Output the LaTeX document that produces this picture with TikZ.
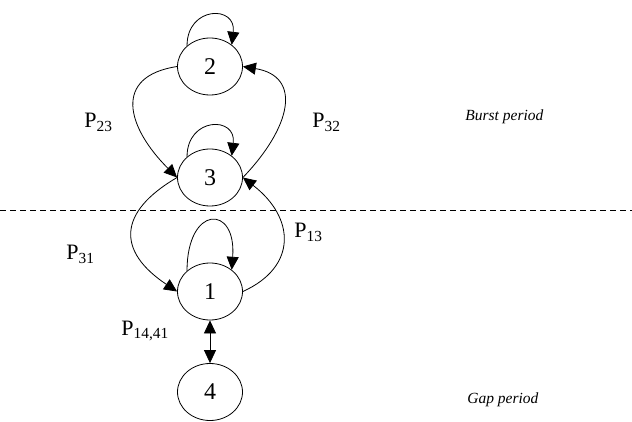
\documentclass[tikz,border=0pt]{standalone}
\usepackage{fontspec}
\setmainfont{Liberation Serif}
\usetikzlibrary{arrows.meta, shapes.geometric}

\begin{document}
\begin{tikzpicture}[
  x=1pt, y=-1pt,
  line width=0.8pt,
  >={Triangle[length=13pt, width=12pt]},
  state/.style={ellipse, draw, minimum width=65pt, minimum height=57pt, inner sep=0pt, font=\fontsize{24}{27}\selectfont},
  prob/.style={anchor=base west, inner sep=0pt, font=\fontsize{22}{25}\selectfont},
  period/.style={anchor=base west, inner sep=0pt, font=\fontsize{15.5}{18}\selectfont\itshape},
]
\useasboundingbox (0,0) rectangle (632,422);

% states
\node[state] (n2) at (210, 66.5) {2};
\node[state] (n3) at (210, 177.5) {3};
\node[state] (n1) at (210, 291.5) {1};
\node[state] (n4) at (210, 392) {4};

% self loops
\draw[->] (n2.138) .. controls +(0,-40) and +(5,-40) .. (n2.45);
\draw[->] (n3.138) .. controls +(0,-40) and +(5,-40) .. (n3.45);
\draw[->] (n1.138) .. controls +(0,-66) and +(5,-66) .. (n1.45);

% transitions
\draw[->] (n2.west) .. controls +(-65,10) and +(-50,-50) .. (n3.west);
\draw[->] (n3.east) .. controls +(48,-50) and +(60,10) .. (n2.east);
\draw[->] (n3.west) .. controls +(-60,35) and +(-60,-40) .. (n1.west);
\draw[->] (n1.east) .. controls +(55,-25) and +(52,40) .. (n3.east);
\draw[<->] (n1.south) -- (n4.north);

% boundary between the two periods
\coordinate (bl) at (0,210);
\coordinate (br) at (632,210);
\draw[line width=0.7pt, dash pattern=on 6pt off 4pt] (bl) -- (br);

% labels
\node[prob] (p23) at (84,128) {P\textsubscript{23}};
\node[prob] (p32) at (312,128) {P\textsubscript{32}};
\node[prob] (p31) at (66,260) {P\textsubscript{31}};
\node[prob] (p13) at (294,238) {P\textsubscript{13}};
\node[prob] (p14) at (121,335) {P\textsubscript{14,41}};

\node[period] (burst) at (465,121) {Burst period};
\node[period] (gap) at (467,403) {Gap period};

\end{tikzpicture}
\end{document}
